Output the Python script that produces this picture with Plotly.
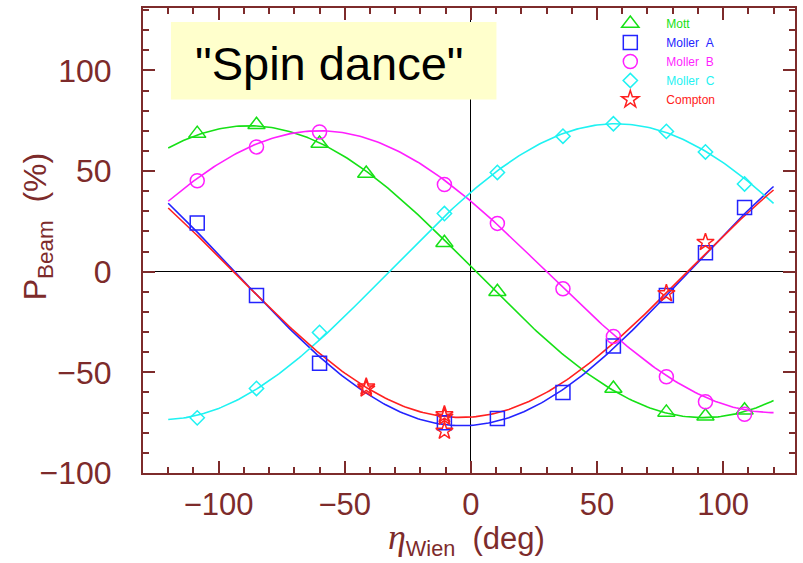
import numpy as np
import plotly.graph_objects as go

# ---- measured beam polarization vs Wien angle ----
mott_eta = [-108.5, -85, -60, -41.5, -10.5, 10.5, 56.5, 77.5, 93, 108.5]
mott_pol = [68.6, 73.0, 63.7, 48.8, 14.4, -10.0, -58.0, -69.9, -71.8, -68.8]

mollerA_eta = [-108.5, -85, -60, -10.5, 10.5, 36.5, 56.5, 77.5, 93, 108.5]
mollerA_pol = [24.2, -11.8, -45.5, -75.0, -72.9, -60.0, -36.9, -11.8, 9.4, 31.9]

mollerB_eta = [-108.5, -85, -60, -10.5, 10.5, 36.5, 56.5, 77.5, 93, 108.5]
mollerB_pol = [45.2, 62.0, 69.4, 43.3, 24.0, -8.5, -32.2, -52.2, -64.6, -70.8]

mollerC_eta = [-108.5, -85, -60, -10.5, 10.5, 36.5, 56.5, 77.5, 93, 108.5]
mollerC_pol = [-72.6, -58.0, -30.2, 28.9, 49.3, 67.3, 73.5, 69.7, 59.5, 43.6]

compton_eta = [-41.5, -41.5, -10.5, -10.5, -10.5, 77.5, 93]
compton_pol = [-57.2, -58.2, -71.0, -72.2, -79.2, -10.8, 14.6]

# fitted P = A * cos(eta - phi)
fit_names = ["Mott", "Moller\u00a0\u00a0A", "Moller\u00a0\u00a0B", "Moller\u00a0\u00a0C", "Compton"]
fit_amp = [72.5, -76.5, 70.0, 73.5, -72.4]
fit_phase = [-88.0, -3.6, -60.0, 57.5, -4.1]
fit_range = [-120, 120]

# ---- styling ----
MAROON = "#7d2b2b"
colors = ["#16e016", "#2323ff", "#ff1fff", "#1ff2f2", "#ff2020"]
symbols = ["triangle-up-open", "square-open", "circle-open", "diamond-open", "star-open"]
sizes = [15, 14, 14, 11, 13]

W, H = 803, 563
L, R, T, B = 143, 7, 6, 90
PW, PH = W - L - R, H - T - B


def px(x):
    return (x - L) / PW


def py(y):
    return (H - B - y) / PH


fig = go.Figure()

eta_fine = np.linspace(fit_range[0], fit_range[1], 241)
for amp, ph, col in zip(fit_amp, fit_phase, colors):
    fig.add_trace(go.Scatter(
        x=eta_fine, y=amp * np.cos(np.radians(eta_fine - ph)),
        mode="lines", line=dict(color=col, width=1.6),
        showlegend=False, hoverinfo="skip"))

series = [(mott_eta, mott_pol), (mollerA_eta, mollerA_pol), (mollerB_eta, mollerB_pol),
          (mollerC_eta, mollerC_pol), (compton_eta, compton_pol)]
for (ex, ey), name, col, sym, sz in zip(series, fit_names, colors, symbols, sizes):
    fig.add_trace(go.Scatter(
        x=ex, y=ey, mode="markers", name=f'<span style="color:{col}">{name}</span>',
        marker=dict(symbol=sym, size=sz, color=col, line=dict(color=col, width=1.5))))

axis_common = dict(
    showline=True, linecolor=MAROON, linewidth=2, mirror="allticks",
    ticks="inside", ticklen=12, tickwidth=2, tickcolor=MAROON,
    showgrid=False, zeroline=True, zerolinecolor="black", zerolinewidth=1.2,
    tickfont=dict(family="Liberation Sans", size=32, color=MAROON),
    minor=dict(dtick=10, ticks="inside", ticklen=6, tickwidth=1.5, tickcolor=MAROON),
)

fig.update_xaxes(range=[-130, 128.5], tick0=0, dtick=50, ticklabelstandoff=3, **axis_common)
fig.update_yaxes(range=[-100, 131], tick0=0, dtick=50, ticklabelstandoff=23, **axis_common)
fig.update_xaxes(tickfont_size=31)

fig.add_shape(type="rect", xref="paper", yref="paper",
              x0=px(171), x1=px(497), y0=py(98), y1=py(20),
              fillcolor="#ffffcc", line=dict(width=0), layer="above")

fig.add_annotation(x=px(330), y=py(62), xref="paper", yref="paper",
                   xanchor="center", yanchor="middle",
                   text='"Spin dance"', showarrow=False,
                   font=dict(family="Liberation Sans", size=47, color="black"))

fig.add_annotation(x=px(37), y=py(226), xref="paper", yref="paper",
                   xanchor="center", yanchor="middle",
                   text="P<sub>Beam</sub>  (%)", textangle=-90, showarrow=False,
                   font=dict(family="Liberation Sans", size=32, color=MAROON))

fig.add_annotation(x=px(467), y=py(562), xref="paper", yref="paper",
                   xanchor="center", yanchor="bottom", borderpad=0,
                   text='<span style="font-family:Liberation Serif;font-style:italic;font-size:36px">η</span>'
                        '<sub>Wien</sub>  (deg)',
                   showarrow=False,
                   font=dict(family="Liberation Sans", size=31, color=MAROON))

fig.update_layout(
    width=W, height=H,
    margin=dict(l=L, r=R, t=T, b=B),
    paper_bgcolor="white", plot_bgcolor="white",
    legend=dict(x=px(595), y=py(7), xanchor="left", yanchor="top",
                bgcolor="rgba(0,0,0,0)", font=dict(family="Liberation Sans", size=12),
                itemwidth=62, tracegroupgap=0),
)

fig.write_html("out.html")
